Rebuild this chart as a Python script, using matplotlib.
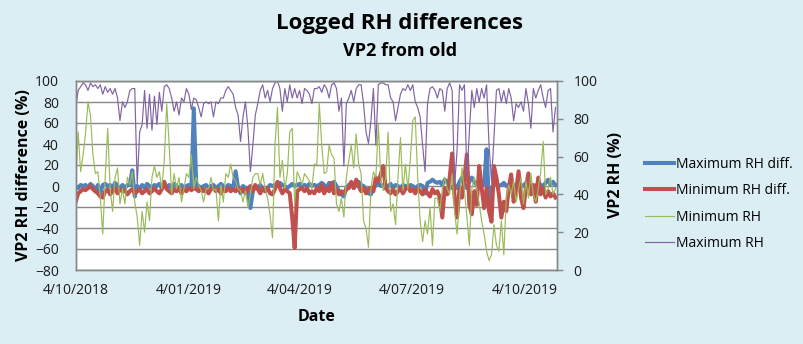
import matplotlib
matplotlib.use("Agg")
import matplotlib.pyplot as plt
import pandas as pd
from matplotlib.lines import Line2D

plt.rcParams["font.family"] = ["Open Sans", "DejaVu Sans"]

# logger readings, every second day from 4 Oct 2018
START = "2018-10-04"
STEP = "2D"

MAX_RH_DIFF = [
    0, -2, 1, 0, 1, -2, 2, 0, -5, 1,
    -7, 1, 2, 0, 1, -2, 3, 0, -2, 1,
    -2, 1, 1, 15, -10, 0, -3, 1, -2, 2,
    0, -2, 1, 0, 2, -2, 1, -2, 1, -2,
    2, 0, -2, 1, -2, 0, 1, -2, 74, 1,
    0, -2, 0, 1, -2, 0, 1, -2, 0, 2,
    0, -2, 1, 0, -2, 14, -2, -7, 0, -2,
    -5, -21, -5, 0, -2, 1, -2, -5, -2, 1,
    0, 1, 0, 3, 1, 0, -2, 0, 2, 0,
    1, 2, 0, 1, 0, 2, 0, 1, 0, 1,
    3, 1, -2, 3, 1, 4, 0, -5, -8, -10,
    -2, 1, 3, -2, 1, 4, 1, 0, -3, -7,
    -8, -2, 1, 3, 0, 1, -2, 0, 2, -2,
    1, 0, -2, 1, 0, -2, 1, 0, -2, 0,
    1, 0, -7, 3, 4, 6, 4, 3, 4, 1,
    6, 4, 0, -2, 1, -2, 4, 8, 1, -2,
    4, 8, 4, 1, 0, 4, 1, 35, -19, -2,
    1, 3, 0, 1, 3, 0, 1, -2, 1, 0,
    -2, 1, 0, 3, 1, 0, -2, 0, 3, 1,
    0, 3, 6, 1, 4, 1,
]

MIN_RH_DIFF = [
    -15, -7, -5, -3, -4, -2, 0, -3, -5, -7,
    -10, -11, -5, -3, -8, -5, -2, -7, -3, -5,
    -4, -8, -5, -3, -7, -5, -3, -7, -5, -3,
    -7, -5, -2, -5, -7, -3, 4, -3, -5, -7,
    -3, -5, -2, -7, -3, -5, -2, -4, -2, -3,
    -5, -2, -5, -3, -7, -3, -2, -5, -3, -7,
    -3, -5, -2, -5, -3, -5, -2, -5, -3, -7,
    -3, 0, -5, 1, -3, -7, -2, -5, -2, -7,
    -8, -3, 4, -2, -7, -3, -5, -7, -30, -59,
    -5, -3, -2, -5, -2, -7, -5, -7, -2, -5,
    1, -7, -2, -5, 3, -7, -3, -8, -5, -7,
    -3, -2, 4, -2, 6, 0, -5, -2, -7, -3,
    -2, -5, 8, 4, 11, 19, -2, -5, -7, -3,
    -8, -5, -2, -7, -3, 0, -5, -3, -7, -2,
    -5, -8, -3, -7, -10, -3, -7, -5, -11, -30,
    -2, -8, 8, 31, -11, -30, -2, -11, 8, 30,
    -18, -27, -5, -18, 19, -2, -21, -2, -24, -34,
    19, 8, -8, -30, -15, -24, -2, 11, -15, -5,
    14, -11, -21, -2, 12, -8, 1, -15, 8, -8,
    -2, -11, -5, -10, -7, -11,
]

MIN_RH = [
    45, 73, 52, 61, 72, 89, 82, 61, 51, 52,
    38, 19, 49, 75, 43, 31, 49, 54, 35, 43,
    35, 49, 45, 52, 36, 28, 13, 31, 20, 36,
    26, 49, 55, 49, 52, 43, 58, 88, 66, 40,
    51, 43, 49, 36, 43, 51, 49, 61, 43, 49,
    45, 42, 36, 43, 43, 49, 42, 43, 26, 45,
    36, 51, 49, 56, 49, 47, 43, 42, 36, 42,
    33, 40, 49, 51, 51, 45, 51, 43, 38, 29,
    17, 66, 86, 49, 58, 43, 51, 73, 75, 35,
    52, 49, 45, 51, 49, 47, 43, 56, 56, 88,
    66, 51, 52, 66, 61, 59, 35, 31, 38, 28,
    49, 58, 66, 54, 72, 56, 51, 26, 22, 12,
    43, 52, 49, 77, 49, 42, 49, 73, 31, 35,
    24, 49, 70, 42, 56, 43, 58, 79, 81, 49,
    26, 15, 26, 19, 33, 13, 38, 38, 31, 43,
    49, 43, 40, 51, 31, 19, 38, 54, 42, 28,
    13, 43, 49, 43, 35, 26, 19, 10, 5, 8,
    24, 13, 10, 26, 8, 38, 45, 40, 47, 36,
    43, 49, 35, 47, 38, 51, 40, 36, 43, 52,
    68, 40, 43, 49, 40, 43,
]

MAX_RH = [
    86, 95, 97, 99, 98, 95, 99, 97, 98, 96,
    98, 93, 97, 94, 96, 93, 96, 91, 79, 89,
    86, 89, 95, 96, 96, 45, 73, 77, 95, 75,
    93, 74, 92, 77, 94, 84, 97, 98, 96, 91,
    84, 89, 82, 91, 89, 96, 93, 85, 91, 90,
    86, 81, 88, 89, 88, 89, 81, 89, 88, 91,
    91, 95, 97, 95, 93, 86, 82, 68, 81, 89,
    75, 52, 66, 82, 88, 95, 98, 91, 95, 89,
    96, 99, 100, 96, 84, 96, 89, 98, 91, 96,
    91, 95, 88, 96, 95, 93, 88, 96, 96, 97,
    94, 98, 96, 91, 98, 99, 96, 84, 91, 55,
    88, 91, 95, 89, 96, 98, 98, 88, 73, 67,
    79, 96, 66, 98, 99, 99, 98, 98, 91, 89,
    79, 86, 93, 96, 95, 98, 95, 98, 89, 86,
    81, 66, 52, 88, 96, 97, 95, 91, 96, 95,
    84, 96, 99, 95, 45, 63, 98, 95, 98, 49,
    73, 95, 86, 96, 89, 96, 91, 98, 66, 47,
    70, 95, 96, 89, 95, 88, 96, 91, 79, 88,
    86, 89, 84, 96, 88, 75, 96, 91, 95, 98,
    91, 86, 95, 96, 73, 86,
]

TICK_DATES = ["2018-10-04", "2019-01-04", "2019-04-04", "2019-07-04", "2019-10-04"]
TICK_LABELS = ["4/10/2018", "4/01/2019", "4/04/2019", "4/07/2019", "4/10/2019"]
X_END = "2019-10-30"

BLUE = "#4F81BD"
RED = "#C0504D"
GREEN = "#9BBB59"
PURPLE = "#8064A2"
GRID = "#878787"
BG = "#DBEEF4"

dates = pd.date_range(START, periods=len(MAX_RH_DIFF), freq=STEP)

fig = plt.figure(figsize=(8.04, 3.44), dpi=100, facecolor=BG)
ax = fig.add_axes([75.7 / 804, 74 / 344, 481 / 804, 189 / 344])
ax.set_facecolor("white")

ax.plot(dates, MAX_RH_DIFF, color=BLUE, lw=2.9, solid_joinstyle="round")
ax.plot(dates, MIN_RH_DIFF, color=RED, lw=2.9, solid_joinstyle="round")
ax.set_ylim(-80, 100)
ax.set_yticks(range(-80, 101, 20))
ax.grid(axis="y", color=GRID, lw=1.0)
ax.set_axisbelow(True)
ax.set_xlim(pd.Timestamp(START), pd.Timestamp(X_END))
ax.set_xticks(pd.to_datetime(TICK_DATES))
ax.set_xticklabels(TICK_LABELS)
ax.tick_params(axis="both", length=0, labelsize=10, colors="#1a1a1a")
ax.tick_params(axis="x", pad=9)
ax.tick_params(axis="y", pad=12)

ax2 = ax.twinx()
ax2.plot(dates, MIN_RH, color=GREEN, lw=0.85)
ax2.plot(dates, MAX_RH, color=PURPLE, lw=0.85)
ax2.set_ylim(0, 100)
ax2.set_yticks(range(0, 101, 20))
ax2.tick_params(axis="y", length=4, width=1, color=GRID, pad=8,
                labelsize=10, labelcolor="#1a1a1a")

for a in (ax, ax2):
    for sp in a.spines.values():
        sp.set_color(GRID)
        sp.set_linewidth(1.0)

ax.set_ylabel("VP2 RH difference (%)", fontsize=11.5, weight="bold")
ax.yaxis.set_label_coords(-0.091, 0.5)
ax.set_xlabel("Date", fontsize=11.5, weight="bold")
ax.xaxis.set_label_coords(0.5, -0.206)
ax2.set_ylabel("VP2 RH (%)", fontsize=11.5, weight="bold")
ax2.yaxis.set_label_coords(1.107, 0.5)

fig.text(0.497, 1 - 23 / 344, "Logged RH differences", ha="center", va="center",
         fontsize=16, weight="bold")
fig.text(0.497, 1 - 51 / 344, "VP2 from old", ha="center", va="center",
         fontsize=13, weight="bold")

handles = [
    Line2D([], [], color=BLUE, lw=2.9),
    Line2D([], [], color=RED, lw=2.9),
    Line2D([], [], color=GREEN, lw=0.85),
    Line2D([], [], color=PURPLE, lw=0.85),
]
labels = ["Maximum RH diff.", "Minimum RH diff.", "Minimum RH", "Maximum RH"]
fig.legend(handles, labels, loc="center left", bbox_to_anchor=(645 / 804, 1 - 204 / 344),
           frameon=False, fontsize=10, handlelength=2.1, handletextpad=0.1,
           labelspacing=0.82, borderpad=0, borderaxespad=0)

fig.savefig("out.png", dpi=100, facecolor=BG)
